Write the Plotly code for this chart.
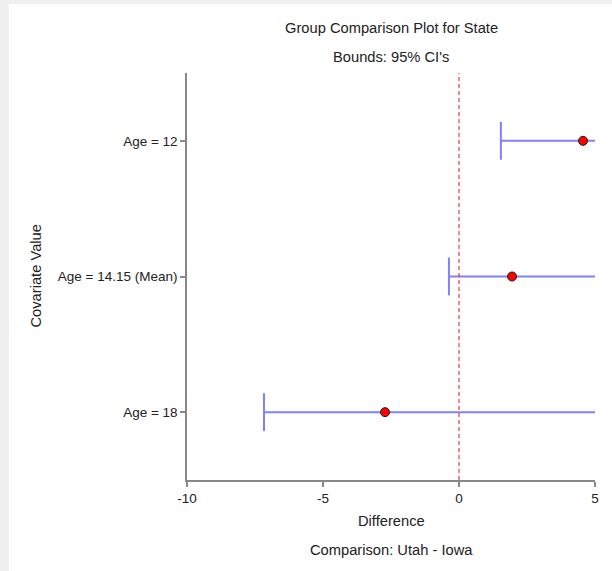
import plotly.graph_objects as go

# ---- data ----
categories = ["Age = 12", "Age = 14.15 (Mean)", "Age = 18"]
estimates = [4.56, 1.95, -2.72]
lower_bounds = [1.54, -0.37, -7.17]
x_tick_vals = [-10, -5, 0, 5]
x_tick_text = ["-10", "-5", "0", "5"]
X_MIN, X_MAX = -10, 5

title_line1 = "Group Comparison Plot for State"
title_line2 = "Bounds: 95% CI's"
x_title_line1 = "Difference"
x_title_line2 = "Comparison: Utah - Iowa"
y_title = "Covariate Value"

BLUE = "rgb(128,128,255)"
FONT = "Liberation Sans, Arial, sans-serif"

fig = go.Figure()

# one-sided interval lines: from lower bound to the right edge of the axis
for cat, lo in zip(categories, lower_bounds):
    fig.add_trace(go.Scatter(
        x=[lo, X_MAX], y=[cat, cat], mode="lines",
        line=dict(color=BLUE, width=2), hoverinfo="skip", showlegend=False))

# caps at the lower bounds
fig.add_trace(go.Scatter(
    x=lower_bounds, y=categories, mode="markers",
    marker=dict(symbol="line-ns", size=27, line=dict(color=BLUE, width=2)),
    showlegend=False, hoverinfo="skip"))

# estimates
fig.add_trace(go.Scatter(
    x=estimates, y=categories, mode="markers",
    marker=dict(symbol="circle", size=9, color="#ff0000",
                line=dict(color="#202020", width=1)),
    showlegend=False))

# zero reference line
fig.add_shape(type="line", xref="x", yref="paper", x0=0, x1=0, y0=0, y1=1,
              line=dict(color="rgb(230,60,60)", width=1.2, dash="4px,3px"),
              layer="above")

# white panel over the grey page background
fig.add_shape(type="rect", xref="paper", yref="paper",
              x0=(9 - 187) / 408, x1=(640 - 187) / 408,
              y0=(480 - 600) / 407, y1=(480 - 4) / 407,
              fillcolor="white", line=dict(width=0), layer="below")

ann_font = dict(family=FONT, size=14.7, color="#222222")
annotations = [
    dict(text=title_line1, x=0.5, y=(480 - 28) / 407),
    dict(text=title_line2, x=0.5, y=(480 - 57) / 407),
    dict(text=x_title_line1, x=0.5, y=(480 - 521) / 407),
    dict(text=x_title_line2, x=0.5, y=(480 - 550) / 407),
]
for a in annotations:
    a.update(xref="paper", yref="paper", showarrow=False, xanchor="center",
             yanchor="middle", font=ann_font)
annotations.append(dict(text=y_title, x=(35 - 187) / 408, y=0.5, xref="paper",
                        yref="paper", showarrow=False, textangle=-90,
                        xanchor="center", yanchor="middle", font=ann_font))

fig.update_layout(
    width=612, height=571,
    margin=dict(l=187, r=17, t=73, b=91, pad=0),
    paper_bgcolor="#f0f0f0", plot_bgcolor="rgba(0,0,0,0)",
    font=dict(family=FONT, size=13.5, color="#222222"),
    annotations=annotations,
    xaxis=dict(range=[X_MIN, X_MAX], tickvals=x_tick_vals, ticktext=x_tick_text,
               showgrid=False, zeroline=False, showline=True,
               linecolor="#888888", linewidth=1.5, ticks="outside", ticklen=5,
               tickcolor="#888888", tickwidth=1.5,
               tickfont=dict(family=FONT, size=13.5, color="#222222")),
    yaxis=dict(type="category", categoryorder="array", categoryarray=categories,
               range=[2.5, -0.5], showgrid=False, zeroline=False, showline=True,
               linecolor="#888888", linewidth=1.5, ticks="outside", ticklen=5,
               tickcolor="#888888", tickwidth=1.5,
               tickfont=dict(family=FONT, size=13.5, color="#222222")),
)

fig.write_html("out.html", config={"displayModeBar": False},
               post_script="document.body.style.margin='0';")
